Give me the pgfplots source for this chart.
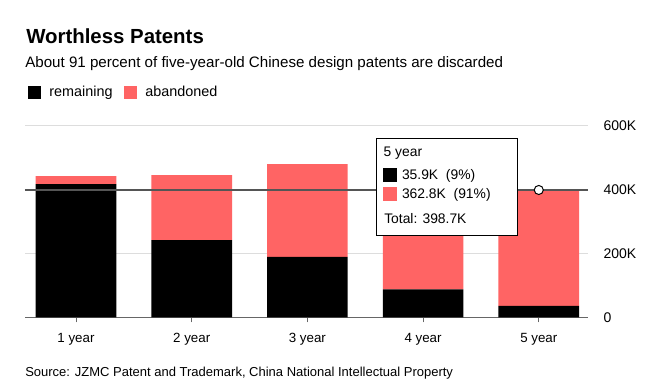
\documentclass[border=0pt]{standalone}
\usepackage{fontspec}
\setmainfont{Liberation Sans}
\usepackage{pgfplots}
\pgfplotsset{compat=1.18}
\definecolor{aband}{RGB}{255,100,100}
\definecolor{gridc}{RGB}{221,221,221}
\definecolor{axc}{RGB}{102,102,102}
\definecolor{hov}{RGB}{85,85,85}
\begin{document}
\begin{tikzpicture}
\path[use as bounding box, fill=white] (0pt,0pt) rectangle (495.75pt,294pt);
\begin{axis}[
  at={(18.75pt,56.025pt)}, anchor=south west,
  scale only axis, width=422.475pt, height=143.7pt,
  ybar stacked, bar width=60.5pt,
  xmin=-0.4408, xmax=4.428, ymin=0, ymax=600,
  axis x line*=bottom, axis y line*=right,
  y axis line style={draw=none},
  x axis line style={draw=axc, line width=0.75pt},
  xtick={0,1,2,3,4},
  xticklabels={1 year,2 year,3 year,4 year,5 year},
  tick align=outside, major tick length=3.75pt,
  xtick style={draw=axc, line width=0.75pt},
  xticklabel style={font=\fontsize{10}{12}\selectfont, anchor=base, yshift=-15.3pt},
  ytick={0,200,400,600},
  yticklabels={0,200K,400K,600K},
  ytick style={draw=none},
  yticklabel style={font=\fontsize{10.5}{12}\selectfont, anchor=west, inner sep=0pt, xshift=7.5pt},
  ymajorgrids, grid style={draw=gridc, line width=0.75pt},
  legend columns=2,
  legend style={draw=none, fill=none, at={(axis description cs:0.0043,1.173)}, anchor=west,
    inner sep=0pt, font=\fontsize{10.8}{12}\selectfont,
    nodes={inner sep=0pt, anchor=west},
    /tikz/every odd column/.append style={column sep=6.5pt},
    /tikz/every even column/.append style={column sep=8.25pt}},
  legend image code/.code={\fill[#1] (0pt,-4.875pt) rectangle (9.75pt,4.875pt);},
]
\addplot[fill=black, draw=none] coordinates {(0,417) (1,242) (2,189) (3,87.6) (4,35.9)};
\addlegendentry{remaining}
\addplot[fill=aband, draw=none] coordinates {(0,25) (1,203) (2,291) (3,337.4) (4,362.8)};
\addlegendentry{abandoned}
\end{axis}
\begin{axis}[
  at={(18.75pt,56.025pt)}, anchor=south west,
  scale only axis, width=422.475pt, height=143.7pt,
  xmin=-0.4408, xmax=4.428, ymin=0, ymax=600,
  hide axis, clip=false,
]
\addplot[draw=hov, line width=1pt] coordinates {(-0.4408,398.7) (4.428,398.7)};
\addplot[only marks, mark=*, mark size=3.4pt, mark options={fill=white, draw=black, line width=0.75pt}] coordinates {(4,398.7)};
\end{axis}
% tooltip
\draw[fill=white, draw=black, line width=0.75pt] (282.5pt,117.5pt) rectangle (388.3pt,190.3pt);
\node[anchor=base west, inner sep=0pt, font=\fontsize{10.4}{12}\selectfont] at (287.5pt,176.5pt) {5 year};
\fill[black] (287.5pt,157.7pt) rectangle (297.5pt,167.8pt);
\node[anchor=base west, inner sep=0pt, font=\fontsize{10.4}{12}\selectfont] at (301.3pt,159.5pt) {35.9K\ \ (9\%)};
\fill[aband] (287.5pt,143.5pt) rectangle (297.5pt,154pt);
\node[anchor=base west, inner sep=0pt, font=\fontsize{10.4}{12}\selectfont] at (301.3pt,145.3pt) {362.8K\ \ (91\%)};
\node[anchor=base west, inner sep=0pt, font=\fontsize{10.4}{12}\selectfont] at (288pt,126pt) {Total: 398.7K};
% titles
\node[anchor=base west, inner sep=0pt, font=\bfseries\fontsize{15.3}{18}\selectfont] at (19.5pt,261.5pt) {Worthless Patents};
\node[anchor=base west, inner sep=0pt, font=\fontsize{11.35}{13}\selectfont] at (18.75pt,243.2pt) {About 91 percent of five-year-old Chinese design patents are discarded};
\node[anchor=base west, inner sep=0pt, font=\fontsize{9.75}{12}\selectfont] at (18.75pt,11.5pt) {Source: JZMC Patent and Trademark, China National Intellectual Property};
\end{tikzpicture}
\end{document}
